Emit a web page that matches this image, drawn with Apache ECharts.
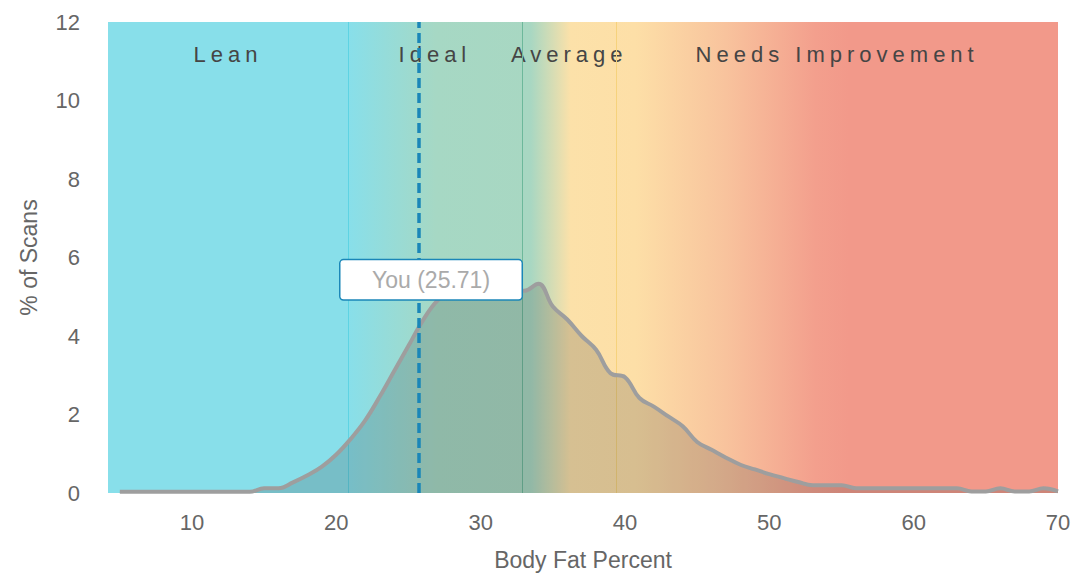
<!DOCTYPE html>
<html><head><meta charset="utf-8">
<script src="https://cdn.jsdelivr.net/npm/echarts@6/dist/echarts.min.js"></script>
<style>
html,body{margin:0;padding:0;background:#fff;}
#chart{width:1086px;height:576px;}
#chart text[fill="#454545"]{letter-spacing:5px;}
</style></head>
<body><div id="chart"></div>
<script>
// ---- data ----
const bodyFat = [5,6,7,8,9,10,11,12,13,14,15,16,17,18,19,20,21,22,23,24,25,26,27,28,29,30,31,32,33,34,35,36,37,38,39,40,41,42,43,44,45,46,47,48,49,50,51,52,53,54,55,56,57,58,59,60,61,62,63,64,65,66,67,68,69,70];
const scanPct = [0.03,0.03,0.03,0.03,0.03,0.03,0.03,0.03,0.03,0.03,0.12,0.12,0.27,0.45,0.67,0.98,1.38,1.85,2.45,3.1,3.75,4.4,4.9,5.15,5.2,5.2,5.2,5.15,5.15,5.33,4.75,4.42,4.0,3.65,3.05,2.95,2.42,2.2,1.95,1.7,1.3,1.1,0.9,0.72,0.6,0.48,0.38,0.28,0.2,0.2,0.2,0.12,0.12,0.12,0.12,0.12,0.12,0.12,0.12,0.04,0.04,0.12,0.04,0.04,0.12,0.04];
const zoneNames = ['Lean','Ideal','Average','Needs Improvement'];
const zoneBounds = [4.18, 20.8, 32.86, 39.4, 70];
const xTicks = [10,20,30,40,50,60,70];
const yTicks = [0,2,4,6,8,10,12];
const youValue = 25.71;
const youLabelY = 5.43;

const FONT = "'Liberation Sans', Arial, sans-serif";
const boundaryColors = ['#5ed3e3','#6db89b','#f6d27c'];

const curveData = bodyFat.map((x,i)=>[x, scanPct[i]]);

const bgGradient = new echarts.graphic.LinearGradient(0,0,1,0,[
  {offset:0, color:'#88dfea'},
  {offset:0.253, color:'#88dfea'},
  {offset:0.345, color:'#a6d8c4'},
  {offset:0.445, color:'#a8d7c2'},
  {offset:0.487, color:'#fce1a9'},
  {offset:0.555, color:'#fddfa7'},
  {offset:0.65, color:'#f8c39d'},
  {offset:0.745, color:'#f39f8d'},
  {offset:0.78, color:'#f2998a'},
  {offset:1, color:'#f2998a'}
]);

const areaData = [[
  {xAxis: zoneBounds[0], yAxis: yTicks[0], itemStyle:{color: bgGradient}, label:{show:false}},
  {xAxis: zoneBounds[zoneBounds.length-1], yAxis: yTicks[yTicks.length-1]}
]];
zoneNames.forEach((n,i)=>{
  areaData.push([
    {name:n, xAxis: zoneBounds[i], yAxis: yTicks[0], itemStyle:{color:'rgba(0,0,0,0)'}},
    {xAxis: zoneBounds[i+1], yAxis: yTicks[yTicks.length-1]}
  ]);
});

const chart = echarts.init(document.getElementById('chart'), null, {renderer:'svg'});
chart.setOption({
  animation:false,
  textStyle:{fontFamily:FONT},
  grid:{left:108, right:28, top:22, bottom:80},
  xAxis:{
    type:'value', min:zoneBounds[0], max:70,
    name:'Body Fat Percent', nameLocation:'middle', nameGap:55,
    nameTextStyle:{fontSize:23, color:'#666', fontFamily:FONT},
    axisLine:{show:false}, axisTick:{show:false}, splitLine:{show:false},
    axisLabel:{customValues:xTicks, fontSize:22, color:'#666', margin:18, fontFamily:FONT, showMinLabel:true, showMaxLabel:true}
  },
  yAxis:{
    type:'value', min:0, max:12, interval:2,
    name:'% of Scans', nameLocation:'middle', nameGap:68,
    nameTextStyle:{fontSize:23, color:'#666', fontFamily:FONT},
    axisLine:{show:false}, axisTick:{show:false}, splitLine:{show:false},
    axisLabel:{fontSize:22, color:'#666', margin:28, fontFamily:FONT}
  },
  series:[
    {
      name:'zones', type:'line', data:[], silent:true,
      markArea:{
        silent:true, z:0,
        label:{show:true, position:'insideTop', distance:21, fontSize:22, color:'#454545', fontFamily:FONT},
        data:areaData
      },
      markLine:{
        silent:true, z:1, symbol:['none','none'], label:{show:false},
        data: zoneBounds.slice(1,4).map((b,i)=>({xAxis:b, lineStyle:{color:boundaryColors[i], width:1, type:'solid'}}))
      }
    },
    {
      name:'scans', type:'line', z:2, data:curveData, smooth:0.4, showSymbol:false, silent:true,
      lineStyle:{color:'#9e9e9e', width:4},
      areaStyle:{color:'rgba(40,40,40,0.25)'}
    },
    {
      name:'you', type:'line', data:[], silent:true,
      markLine:{
        silent:true, z:5, symbol:['none','none'], label:{show:false},
        lineStyle:{color:'#1a86b8', width:3.5, type:[10,5]},
        data:[{xAxis:youValue}]
      },
      markPoint:{
        silent:true, z:6, symbol:'rect', symbolSize:0,
        label:{
          show:true, position:'inside', formatter:'You (' + youValue + ')',
          fontSize:23, color:'#aaaaaa', fontFamily:FONT,
          backgroundColor:'#ffffff', borderColor:'#1a86b8', borderWidth:1.5, borderRadius:3,
          width:181, height:39, lineHeight:39, align:'center', padding:0
        },
        data:[{coord:[youValue + 0.85, youLabelY]}]
      }
    }
  ]
});
function spaceZoneLabels(){
  document.querySelectorAll('#chart text').forEach(t=>{
    if (zoneNames.indexOf(t.textContent.trim())>=0) t.style.letterSpacing='5px';
  });
}
chart.on('finished', spaceZoneLabels);
spaceZoneLabels();
</script>
</body></html>
